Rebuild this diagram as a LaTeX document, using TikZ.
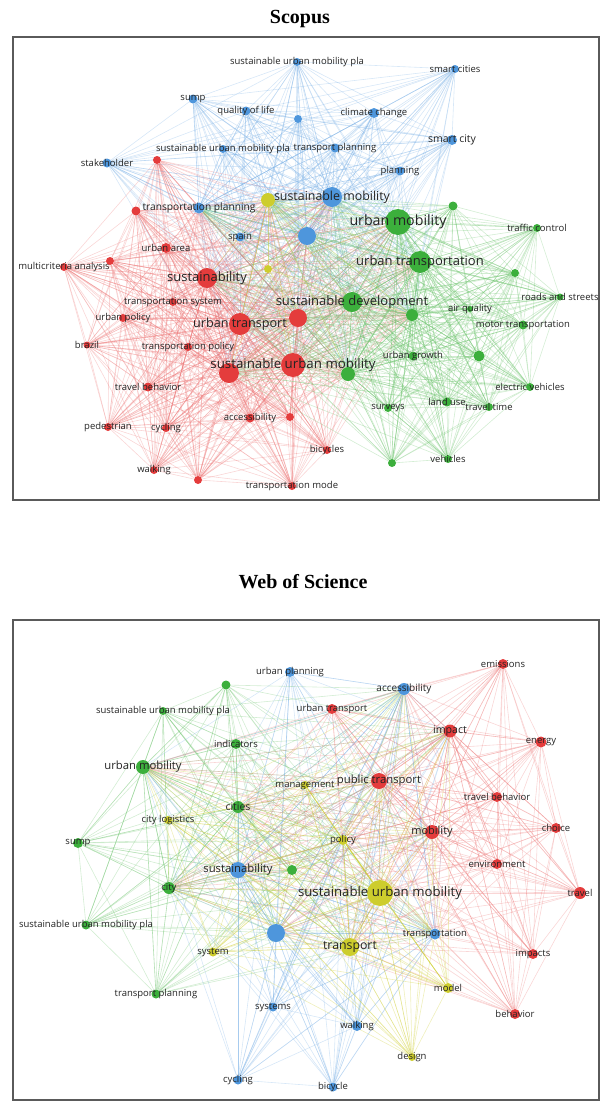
\documentclass[tikz,border=0pt]{standalone}
\usepackage{fontspec}
\setmainfont{Open Sans}
\newfontfamily\titlefont{Liberation Serif}
\definecolor{kwblue}{RGB}{78,150,220}
\definecolor{kwred}{RGB}{228,60,60}
\definecolor{kwgreen}{RGB}{60,175,60}
\definecolor{kwyellow}{RGB}{205,205,45}
\definecolor{lblgray}{RGB}{35,35,35}
\definecolor{framegray}{RGB}{90,90,90}
\pgfdeclarelayer{edges}
\pgfsetlayers{edges,main}
\tikzstyle{kw}=[circle, inner sep=0pt, minimum size=8pt]
\tikzstyle{bnode}=[kw, fill=kwblue]
\tikzstyle{rnode}=[kw, fill=kwred]
\tikzstyle{gnode}=[kw, fill=kwgreen]
\tikzstyle{ynode}=[kw, fill=kwyellow]
\tikzstyle{lbl}=[font=\fontsize{9.5}{10}\selectfont, text=lblgray, inner sep=0pt]
\tikzstyle{lblm}=[lbl, font=\fontsize{11.3}{12}\selectfont]
\tikzstyle{lblb}=[lbl, font=\fontsize{13}{14}\selectfont]
\tikzstyle{title}=[font=\titlefont\bfseries\fontsize{20}{22}\selectfont]
\tikzstyle{frame}=[draw=framegray, line width=1.2pt]
\tikzstyle{eblue}=[kwblue!75!white, line width=0.6pt, opacity=0.3]
\tikzstyle{ered}=[kwred!70!white, line width=0.6pt, opacity=0.3]
\tikzstyle{egreen}=[kwgreen!75!white, line width=0.6pt, opacity=0.3]
\tikzstyle{eyellow}=[kwyellow, line width=0.6pt, opacity=0.32]
% every pair inside one cluster
\newcommand{\linkall}[2]{%
  \foreach \a [count=\i] in #1 {%
    \foreach \b [count=\j] in #1 {%
      \ifnum\i<\j \draw[#2] (\a) -- (\b);\fi}}}
% every node of a cluster to the big keywords
\newcommand{\linkhubs}[3]{%
  \foreach \a in #1 {%
    \foreach \b in #2 {%
      \ifx\a\b\else\draw[#3] (\a) -- (\b);\fi}}}
\def\sblue{supa,sump,qol,bxa,supb,tpl,stake,trpl,spain,smc,clim,smcy,plan,smob,bhub}
\def\sred{rxa,rxb,uarea,mca,rxc,sust,tsys,upol,utr,rhuba,brazil,tpol,rhubb,sum,trb,acc,rxd,ped,cyc,walk,rxe,bicy,tmode}
\def\sgreen{gxa,umob,traf,utra,gxb,roads,sdev,gxc,airq,motor,ugro,gxd,gxe,elec,land,ttime,surv,veh,gxf}
\def\syellow{yxa,yxb}
\def\shubs{smob,bhub,sust,utr,rhuba,rhubb,sum,umob,utra,sdev,gxe,yxa,gxc,trpl}
\def\wgreen{wgxa,wsupa,ind,wumob,cities,wsump,wgxb,city,wsupb,wtpl}
\def\wblue{uplan,wacc,wsust,wbhub,wtrans,systems,wwalk,cycling,bicycle}
\def\wred{emis,wutr,impact,energy,pubt,wtrb,mob,choice,env,travel,impacts,behav}
\def\wyellow{mgmt,clog,policy,wsum,transport,system,model,design}
\def\whubs{wsum,transport,wbhub,wsust,pubt,mob,wumob,cities,impact,city,wacc,wtrans,policy}

\begin{document}
\begin{tikzpicture}[x=1pt, y=-1pt]
  \useasboundingbox (0,0) rectangle (601,1101);

  % Scopus
  \node (scopus) at (300,19) [title] {Scopus};
  \draw[frame] (13,37) rectangle (599,500);

  \node (supa) at (297,62) [bnode, label={[lbl]center:sustainable urban mobility pla}] {};
  \node (sump) at (193,99) [bnode, minimum size=9pt, label={[lbl]center:sump}] {};
  \node (qol) at (246,111) [bnode, minimum size=9pt, label={[lbl]center:quality of life}] {};
  \node (bxa) at (298,119) [bnode] {};
  \node (supb) at (223,149) [bnode, label={[lbl]center:sustainable urban mobility pla}] {};
  \node (tpl) at (335,148) [bnode, minimum size=9pt, label={[lbl]center:transport planning}] {};
  \node (stake) at (107,163) [bnode, minimum size=9pt, label={[lbl]center:stakeholder}] {};
  \node (trpl) at (199,208) [bnode, minimum size=11pt, label={[lbl, font=\fontsize{10.2}{11}\selectfont]center:transportation planning}] {};
  \node (spain) at (240,237) [bnode, minimum size=9pt, label={[lbl]center:spain}] {};
  \node (smc) at (455,69) [bnode, label={[lbl]center:smart cities}] {};
  \node (clim) at (374,113) [bnode, minimum size=10pt, label={[lbl]center:climate change}] {};
  \node (smcy) at (452,140) [bnode, minimum size=10pt, label={[lbl, font=\fontsize{10.5}{11}\selectfont]center:smart city}] {};
  \node (plan) at (400,171) [bnode, minimum size=9pt, label={[lbl]center:planning}] {};
  \node (smob) at (332,197) [bnode, minimum size=20pt, label={[lblb, font=\fontsize{12.4}{13}\selectfont]center:sustainable mobility}] {};
  \node (bhub) at (307,236) [bnode, minimum size=18pt] {};

  \node (rxa) at (157,160) [rnode] {};
  \node (rxb) at (136,211) [rnode, minimum size=9pt] {};
  \node (uarea) at (166,248) [rnode, minimum size=10pt, label={[lbl]center:urban area}] {};
  \node (mca) at (64,267) [rnode, label={[lbl]center:multicriteria analysis}] {};
  \node (rxc) at (110,261) [rnode] {};
  \node (sust) at (207,278) [rnode, minimum size=20pt, label={[lblb]center:sustainability}] {};
  \node (tsys) at (173,302) [rnode, label={[lbl]center:transportation system}] {};
  \node (upol) at (123,318) [rnode, label={[lbl]center:urban policy}] {};
  \node (utr) at (240,324) [rnode, minimum size=22pt, label={[lblb, font=\fontsize{12.6}{13}\selectfont]center:urban transport}] {};
  \node (rhuba) at (298,318) [rnode, minimum size=18pt] {};
  \node (brazil) at (87,345) [rnode, minimum size=7pt, label={[lbl]center:brazil}] {};
  \node (tpol) at (188,347) [rnode, label={[lbl]center:transportation policy}] {};
  \node (rhubb) at (229,373) [rnode, minimum size=20pt] {};
  \node (sum) at (293,365) [rnode, minimum size=24pt, label={[lblb, font=\fontsize{13.3}{14}\selectfont]center:sustainable urban mobility}] {};
  \node (trb) at (148,387) [rnode, minimum size=9pt, label={[lbl]center:travel behavior}] {};
  \node (acc) at (250,418) [rnode, minimum size=9pt, label={[lbl]center:accessibility}] {};
  \node (rxd) at (290,417) [rnode] {};
  \node (ped) at (108,427) [rnode, label={[lbl]center:pedestrian}] {};
  \node (cyc) at (166,428) [rnode, label={[lbl]center:cycling}] {};
  \node (walk) at (154,470) [rnode, label={[lbl]center:walking}] {};
  \node (rxe) at (198,480) [rnode] {};
  \node (bicy) at (327,450) [rnode, label={[lbl]center:bicycles}] {};
  \node (tmode) at (292,486) [rnode, label={[lbl]center:transportation mode}] {};

  \node (gxa) at (453,206) [gnode, minimum size=9pt] {};
  \node (umob) at (398,222) [gnode, minimum size=26pt, label={[lblb, font=\fontsize{14.2}{15}\selectfont]center:urban mobility}] {};
  \node (traf) at (537,228) [gnode, label={[lbl]center:traffic control}] {};
  \node (utra) at (420,262) [gnode, minimum size=22pt, label={[lblb]center:urban transportation}] {};
  \node (gxb) at (515,273) [gnode] {};
  \node (roads) at (560,297) [gnode, minimum size=7pt, label={[lbl]center:roads and streets}] {};
  \node (sdev) at (352,302) [gnode, minimum size=20pt, label={[lblb]center:sustainable development}] {};
  \node (gxc) at (412,315) [gnode, minimum size=12pt] {};
  \node (airq) at (470,309) [gnode, minimum size=6pt, label={[lbl]center:air quality}] {};
  \node (motor) at (523,325) [gnode, minimum size=9pt, label={[lbl]center:motor transportation}] {};
  \node (ugro) at (413,356) [gnode, minimum size=9pt, label={[lbl]center:urban growth}] {};
  \node (gxd) at (479,356) [gnode, minimum size=11pt] {};
  \node (gxe) at (348,374) [gnode, minimum size=14pt] {};
  \node (elec) at (530,387) [gnode, label={[lbl]center:electric vehicles}] {};
  \node (land) at (447,402) [gnode, minimum size=9pt, label={[lbl]center:land use}] {};
  \node (ttime) at (489,407) [gnode, label={[lbl]center:travel time}] {};
  \node (surv) at (388,408) [gnode, label={[lbl]center:surveys}] {};
  \node (veh) at (448,459) [gnode, label={[lbl]center:vehicles}] {};
  \node (gxf) at (392,463) [gnode] {};

  \node (yxa) at (268,200) [ynode, minimum size=14pt] {};
  \node (yxb) at (268,269) [ynode] {};

  % Web of Science
  \node (wos) at (303,582) [title] {Web of Science};
  \draw[frame] (13,620) rectangle (599,1100);

  \node (wgxa) at (226,685) [gnode, minimum size=9pt] {};
  \node (wsupa) at (163,711) [gnode, label={[lbl]center:sustainable urban mobility pla}] {};
  \node (ind) at (236,744) [gnode, minimum size=10pt, label={[lbl]center:indicators}] {};
  \node (wumob) at (143,767) [gnode, minimum size=14pt, label={[lblm]center:urban mobility}] {};
  \node (cities) at (238,807) [gnode, minimum size=12pt, label={[lbl, font=\fontsize{10.5}{11}\selectfont]center:cities}] {};
  \node (wsump) at (78,843) [gnode, minimum size=10pt, label={[lbl]center:sump}] {};
  \node (wgxb) at (292,870) [gnode, minimum size=10pt] {};
  \node (city) at (169,888) [gnode, minimum size=12pt, label={[lbl]center:city}] {};
  \node (wsupb) at (86,925) [gnode, minimum size=9pt, label={[lbl]center:sustainable urban mobility pla}] {};
  \node (wtpl) at (156,994) [gnode, minimum size=9pt, label={[lbl]center:transport planning}] {};

  \node (uplan) at (290,672) [bnode, minimum size=10pt, label={[lbl]center:urban planning}] {};
  \node (wacc) at (404,689) [bnode, minimum size=12pt, label={[lbl, font=\fontsize{10}{11}\selectfont]center:accessibility}] {};
  \node (wsust) at (238,870) [bnode, minimum size=16pt, label={[lblm]center:sustainability}] {};
  \node (wbhub) at (276,933) [bnode, minimum size=18pt] {};
  \node (wtrans) at (435,934) [bnode, minimum size=11pt, label={[lbl]center:transportation}] {};
  \node (systems) at (273,1007) [bnode, minimum size=9pt, label={[lbl]center:systems}] {};
  \node (wwalk) at (357,1026) [bnode, minimum size=10pt, label={[lbl]center:walking}] {};
  \node (cycling) at (238,1080) [bnode, minimum size=9pt, label={[lbl]center:cycling}] {};
  \node (bicycle) at (333,1087) [bnode, minimum size=9pt, label={[lbl]center:bicycle}] {};

  \node (emis) at (503,664) [rnode, minimum size=10pt, label={[lbl]center:emissions}] {};
  \node (wutr) at (332,709) [rnode, minimum size=10pt, label={[lbl]center:urban transport}] {};
  \node (impact) at (450,731) [rnode, minimum size=13pt, label={[lbl, font=\fontsize{10.6}{11}\selectfont]center:impact}] {};
  \node (energy) at (541,742) [rnode, minimum size=11pt, label={[lbl]center:energy}] {};
  \node (pubt) at (379,781) [rnode, minimum size=16pt, label={[lblm]center:public transport}] {};
  \node (wtrb) at (497,797) [rnode, minimum size=10pt, label={[lbl]center:travel behavior}] {};
  \node (mob) at (432,832) [rnode, minimum size=14pt, label={[lblm, font=\fontsize{11}{12}\selectfont]center:mobility}] {};
  \node (choice) at (556,828) [rnode, minimum size=10pt, label={[lbl]center:choice}] {};
  \node (env) at (497,864) [rnode, minimum size=10pt, label={[lbl]center:environment}] {};
  \node (travel) at (580,893) [rnode, minimum size=12pt, label={[lbl]center:travel}] {};
  \node (impacts) at (533,954) [rnode, minimum size=10pt, label={[lbl]center:impacts}] {};
  \node (behav) at (515,1014) [rnode, minimum size=10pt, label={[lbl]center:behavior}] {};

  \node (mgmt) at (305,785) [ynode, label={[lbl]center:management}] {};
  \node (clog) at (168,820) [ynode, label={[lbl]center:city logistics}] {};
  \node (policy) at (343,840) [ynode, minimum size=10pt, label={[lbl]center:policy}] {};
  \node (wsum) at (380,893) [ynode, minimum size=26pt, label={[lblb, font=\fontsize{13.2}{14}\selectfont]center:sustainable urban mobility}] {};
  \node (transport) at (350,947) [ynode, minimum size=18pt, label={[lblb, font=\fontsize{12.3}{13}\selectfont]center:transport}] {};
  \node (system) at (213,952) [ynode, minimum size=9pt, label={[lbl]center:system}] {};
  \node (model) at (448,988) [ynode, minimum size=10pt, label={[lbl]center:model}] {};
  \node (design) at (412,1057) [ynode, label={[lbl]center:design}] {};

  \begin{pgfonlayer}{edges}
    \linkall{\sblue}{eblue}
    \linkall{\sred}{ered}
    \linkall{\sgreen}{egreen}
    \linkall{\syellow}{eyellow}
    \linkhubs{\sblue}{\shubs}{eblue}
    \linkhubs{\sred}{\shubs}{ered}
    \linkhubs{\sgreen}{\shubs}{egreen}
    \linkhubs{\syellow}{\shubs}{eyellow}

    \linkall{\wgreen}{egreen}
    \linkall{\wblue}{eblue}
    \linkall{\wred}{ered}
    \linkall{\wyellow}{eyellow}
    \linkhubs{\wgreen}{\whubs}{egreen}
    \linkhubs{\wblue}{\whubs}{eblue}
    \linkhubs{\wred}{\whubs}{ered}
    \linkhubs{\wyellow}{\whubs}{eyellow}
  \end{pgfonlayer}
\end{tikzpicture}
\end{document}
